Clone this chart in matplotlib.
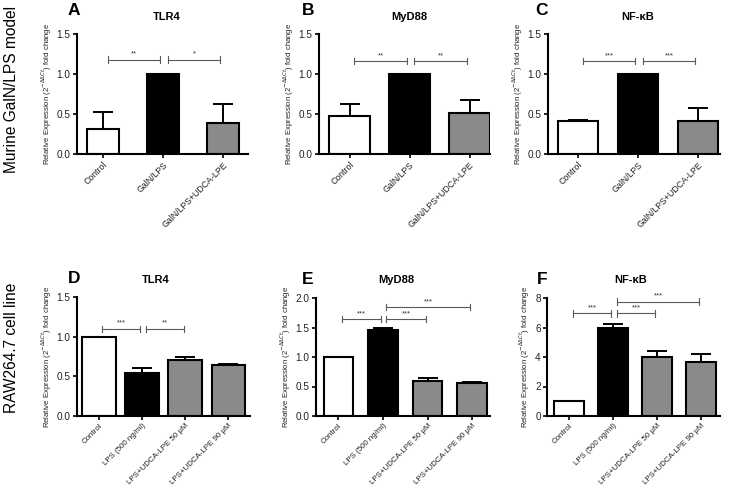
import matplotlib
matplotlib.use("Agg")
import matplotlib.pyplot as plt
import numpy as np

plt.rcParams["font.family"] = ["Liberation Sans", "DejaVu Sans"]

# ---------------------------------------------------------------------------
# data
# ---------------------------------------------------------------------------
cats_top = ["Control", "GalN/LPS", "GalN/LPS+UDCA-LPE"]
cats_bot = ["Control", "LPS (500 ng/ml)", "LPS+UDCA-LPE 50 \u03bcM", "LPS+UDCA-LPE 90 \u03bcM"]

colors_top = ["white", "black", "#8a8a8a"]
colors_bot = ["white", "black", "#8a8a8a", "#8a8a8a"]

tlr4_murine = [0.31, 1.00, 0.39]
tlr4_murine_err = [0.21, 0.0, 0.23]
myd88_murine = [0.48, 1.00, 0.51]
myd88_murine_err = [0.14, 0.0, 0.17]
nfkb_murine = [0.41, 1.00, 0.41]
nfkb_murine_err = [0.02, 0.0, 0.16]

tlr4_raw = [1.00, 0.54, 0.70, 0.64]
tlr4_raw_err = [0.0, 0.06, 0.04, 0.02]
myd88_raw = [1.00, 1.45, 0.60, 0.56]
myd88_raw_err = [0.0, 0.04, 0.05, 0.02]
nfkb_raw = [1.00, 6.00, 4.00, 3.65]
nfkb_raw_err = [0.0, 0.25, 0.40, 0.55]

# significance brackets: (i, j, height, label)
sig_A = [(0, 1, 1.18, "**"), (1, 2, 1.18, "*")]
sig_B = [(0, 1, 1.16, "**"), (1, 2, 1.16, "**")]
sig_C = [(0, 1, 1.16, "***"), (1, 2, 1.16, "***")]
sig_D = [(0, 1, 1.10, "***"), (1, 2, 1.10, "**")]
sig_E = [(0, 1, 1.64, "***"), (1, 2, 1.64, "***"), (1, 3, 1.85, "***")]
sig_F = [(0, 1, 6.95, "***"), (1, 2, 6.95, "***"), (1, 3, 7.75, "***")]

W, H = 731, 492
fig = plt.figure(figsize=(W / 100, H / 100), dpi=100)


def px_axes(x0, y0, x1, y1):
    return fig.add_axes([x0 / W, 1 - y1 / H, (x1 - x0) / W, (y1 - y0) / H])


def px_text(x, y, s, **kw):
    fig.text(x / W, 1 - y / H, s, **kw)


def panel(ax, cats, vals, errs, cols, width, xlim, ylim, yticks, ylabels,
          sigs, cap_h, xfs=6.3):
    x = np.arange(len(cats))
    ax.bar(x, vals, width=width, color=cols, edgecolor="black", linewidth=1.5, zorder=2)
    ax.errorbar(x, vals, yerr=[np.zeros(len(errs)), errs], fmt="none",
                ecolor="black", elinewidth=1.4, capsize=7, capthick=1.4, zorder=1)
    ax.set_xlim(*xlim)
    ax.set_ylim(*ylim)
    ax.set_yticks(yticks)
    ax.set_yticklabels(ylabels, fontsize=7.2, color="#222222")
    ax.set_xticks(x)
    ax.set_xticklabels(cats, rotation=45, ha="right", rotation_mode="anchor",
                       fontsize=xfs, color="#222222")
    for s in ["top", "right"]:
        ax.spines[s].set_visible(False)
    for s in ["left", "bottom"]:
        ax.spines[s].set_linewidth(1.5)
    ax.tick_params(axis="both", direction="out", length=3, width=1.2, pad=1.5)
    ax.set_ylabel(r"Relative Expression (2$^{-\Delta\Delta Ct}$) fold change",
                  fontsize=5.6, color="#222222", labelpad=2)
    for i, j, h, lab in sigs:
        x0 = i + 0.08
        x1 = j - 0.04
        ax.plot([x0, x1], [h, h], color="#5a5a5a", lw=0.8, clip_on=False)
        for xx in (x0, x1):
            ax.plot([xx, xx], [h - cap_h, h + cap_h], color="#5a5a5a", lw=0.8,
                    clip_on=False)
        ax.text((x0 + x1) / 2, h + cap_h * 0.6, lab, ha="center", va="bottom",
                fontsize=5.5, color="#333333")


t15 = [0.0, 0.5, 1.0, 1.5]
t15l = ["0.0", "0.5", "1.0", "1.5"]

axA = px_axes(77, 34, 248, 154)
panel(axA, cats_top, tlr4_murine, tlr4_murine_err, colors_top, 0.53, (-0.43, 2.42),
      (0, 1.5), t15, t15l, sig_A, 0.04)
axB = px_axes(319, 34, 490, 154)
panel(axB, cats_top, myd88_murine, myd88_murine_err, colors_top, 0.68, (-0.51, 2.34),
      (0, 1.5), t15, t15l, sig_B, 0.04)
axC = px_axes(548, 34, 720, 154)
panel(axC, cats_top, nfkb_murine, nfkb_murine_err, colors_top, 0.67, (-0.5, 2.37),
      (0, 1.5), t15, t15l, sig_C, 0.04)

axD = px_axes(77, 297, 250, 416)
panel(axD, cats_bot, tlr4_raw, tlr4_raw_err, colors_bot, 0.78, (-0.51, 3.5),
      (0, 1.5), t15, t15l, sig_D, 0.04, xfs=5.7)
axE = px_axes(316, 298, 490, 416)
panel(axE, cats_bot, myd88_raw, myd88_raw_err, colors_bot, 0.66, (-0.5, 3.4),
      (0, 2.0), [0.0, 0.5, 1.0, 1.5, 2.0], ["0.0", "0.5", "1.0", "1.5", "2.0"],
      sig_E, 0.055, xfs=5.7)
axF = px_axes(547, 298, 720, 416)
panel(axF, cats_bot, nfkb_raw, nfkb_raw_err, colors_bot, 0.7, (-0.5, 3.43),
      (0, 8), [0, 2, 4, 6, 8], ["0", "2", "4", "6", "8"],
      sig_F, 0.22, xfs=5.7)

# panel letters and titles
letter_kw = dict(fontsize=12.5, fontweight="bold", ha="right", va="baseline")
px_text(80, 15, "A", **letter_kw)
px_text(314, 15, "B", **letter_kw)
px_text(548, 15, "C", **letter_kw)
px_text(80, 283, "D", **letter_kw)
px_text(313, 284, "E", **letter_kw)
px_text(548, 284, "F", **letter_kw)

title_kw = dict(fontsize=8, fontweight="bold", ha="center", va="baseline")
px_text(167, 20, "TLR4", **title_kw)
px_text(409, 20, "MyD88", **title_kw)
px_text(638, 20, "NF-\u03baB", **title_kw)
px_text(156, 283, "TLR4", **title_kw)
px_text(396, 283, "MyD88", **title_kw)
px_text(631, 283, "NF-\u03baB", **title_kw)

px_text(12, 89, "Murine GalN/LPS model", rotation=90, fontsize=11.2,
        ha="center", va="center")
px_text(12, 348, "RAW264.7 cell line", rotation=90, fontsize=11.2,
        ha="center", va="center")

fig.savefig("out.png", dpi=100)
